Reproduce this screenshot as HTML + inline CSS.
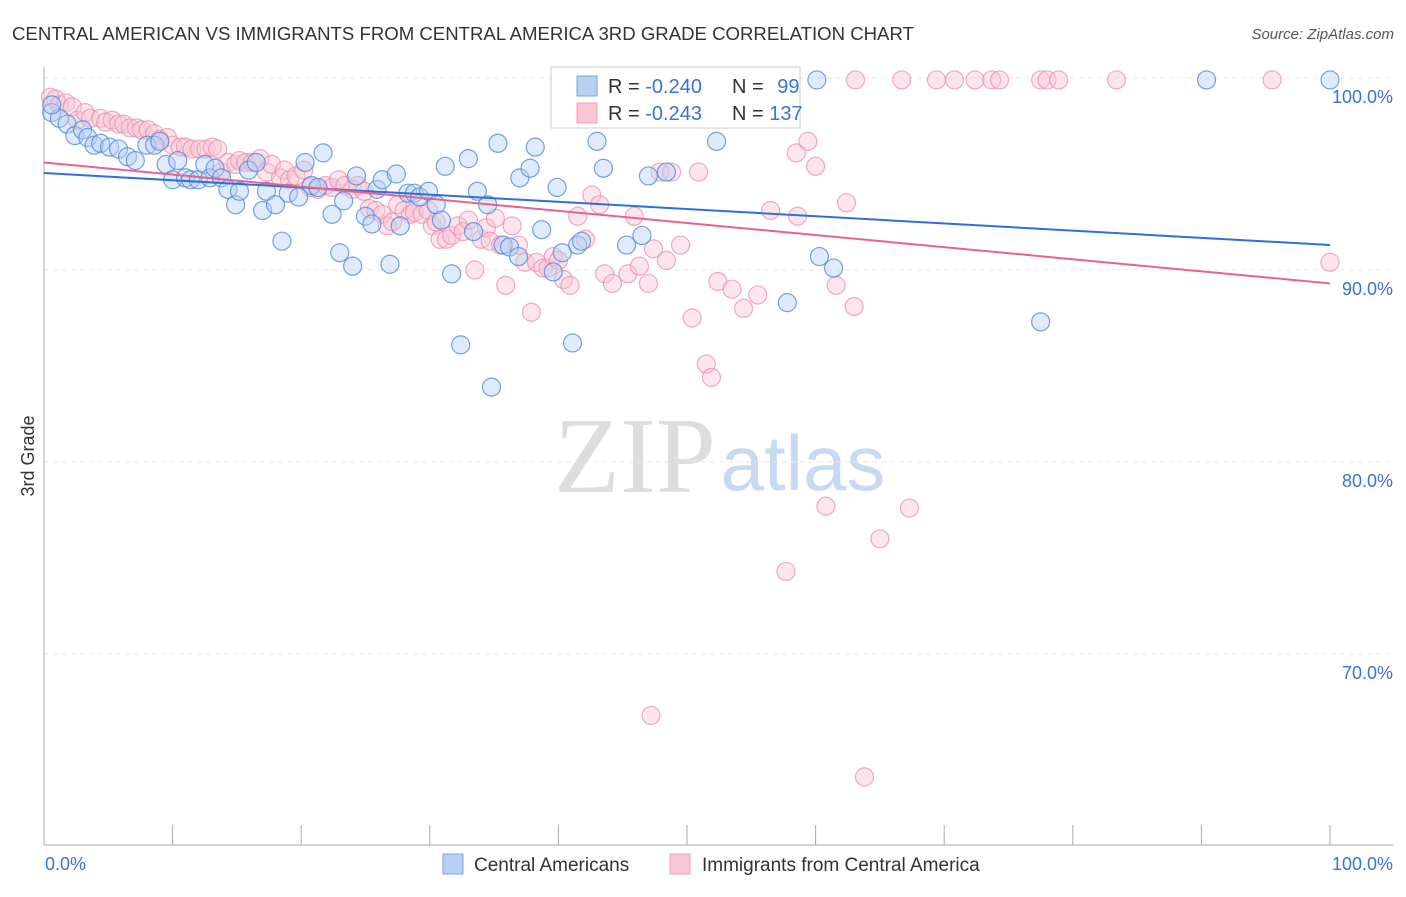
<!DOCTYPE html>
<html><head><meta charset="utf-8"><style>
body{margin:0;background:#fff;font-family:"Liberation Sans",sans-serif;}
svg text{font-family:"Liberation Sans",sans-serif;}
</style></head><body>
<svg id="chart" width="1406" height="892" viewBox="0 0 1406 892">
<text x="12" y="40" font-size="18.6" fill="#333">CENTRAL AMERICAN VS IMMIGRANTS FROM CENTRAL AMERICA 3RD GRADE CORRELATION CHART</text>
<text x="1394" y="39" font-size="15" fill="#555" font-style="italic" text-anchor="end">Source: ZipAtlas.com</text>
<text x="34" y="456" font-size="18" fill="#333" text-anchor="middle" transform="rotate(-90 34 456)">3rd Grade</text>
<g>
<text x="635" y="492" font-size="108" fill="#ddd" text-anchor="middle" style="font-family:'Liberation Serif',serif">ZIP</text>
<text x="803" y="490" font-size="78" fill="#c8daf2" text-anchor="middle">atlas</text>
</g>
<g id="grid"></g><g id="axes"></g><g id="pts"></g><g id="lines"></g>
<g>
<rect x="551" y="67" width="249" height="61" fill="#fff" stroke="#ccc"/>
<rect x="577" y="76" width="20" height="20" fill="#b8d1f3" stroke="#7aa3e0"/>
<text x="608" y="93" font-size="20" fill="#333">R = <tspan fill="#3a72d6">-0.240</tspan></text>
<text x="732" y="93" font-size="20" fill="#333">N = <tspan fill="#3a72d6" dx="8">99</tspan></text>
<rect x="577" y="103" width="20" height="20" fill="#f8c6d4" stroke="#eba0b6"/>
<text x="608" y="120" font-size="20" fill="#333">R = <tspan fill="#3a72d6">-0.243</tspan></text>
<text x="732" y="120" font-size="20" fill="#333">N = <tspan fill="#3a72d6">137</tspan></text>
</g>
<g>
<rect x="443" y="854" width="20" height="20" fill="#b8d1f3" stroke="#7aa3e0"/>
<text x="474" y="871" font-size="19" fill="#333">Central Americans</text>
<rect x="670" y="854" width="20" height="20" fill="#f8c6d4" stroke="#eba0b6"/>
<text x="702" y="871" font-size="19" fill="#333">Immigrants from Central America</text>
</g>
</svg>
<script>
const yTicks=[70,80,90,100];
const yTickLabels=["70.0%","80.0%","90.0%","100.0%"];
const xTickLabels=["0.0%","100.0%"];
const blueX=[0.6,1.2,1.8,2.4,3.0,3.4,3.9,4.4,5.1,5.8,6.5,7.1,8.0,8.6,9.0,9.5,10.0,10.4,11.0,11.4,12.0,12.5,12.9,13.3,13.8,14.3,14.9,15.2,15.9,16.5,17.0,17.3,18.0,18.5,19.0,19.8,20.3,20.8,21.3,21.7,22.4,23.0,23.3,24.0,24.3,25.0,25.5,25.9,26.3,26.9,27.4,27.7,28.3,28.8,29.2,29.9,30.5,30.9,31.2,31.7,32.4,33.0,33.4,33.7,34.5,34.8,35.3,35.7,36.2,36.9,37.0,37.8,38.2,38.7,39.6,39.9,40.3,41.1,41.5,41.8,43.0,43.5,45.3,46.5,47.0,48.4,52.3,57.8,60.3,61.4,60.1,77.5,90.4,100,0.6];
const blueY=[98.2,97.9,97.6,97.0,97.3,96.9,96.5,96.6,96.4,96.3,95.9,95.7,96.5,96.5,96.7,95.5,94.7,95.7,94.8,94.7,94.7,95.5,94.8,95.3,94.8,94.2,93.4,94.1,95.2,95.6,93.1,94.1,93.4,91.5,94.0,93.8,95.6,94.4,94.3,96.1,92.9,90.9,93.6,90.2,94.9,92.8,92.4,94.2,94.7,90.3,95.0,92.3,94.0,94.0,93.8,94.1,93.4,92.6,95.4,89.8,86.1,95.8,92.0,94.1,93.4,83.9,96.6,91.3,91.2,90.7,94.8,95.3,96.4,92.1,89.9,94.3,90.9,86.2,91.3,91.5,96.7,95.3,91.3,91.8,94.9,95.1,96.7,88.3,90.7,90.1,99.9,87.3,99.9,99.9,98.6];
const pinkX=[0.5,0.9,1.2,1.7,2.2,2.6,3.2,3.6,4.4,4.8,5.3,5.8,6.2,6.7,7.2,7.6,8.1,8.6,9.0,9.6,10.0,10.6,11.0,11.5,12.1,12.6,13.1,13.5,13.8,14.3,14.9,15.2,15.7,16.2,16.8,17.3,17.7,18.4,18.7,19.1,19.6,20.2,20.7,21.3,21.9,22.4,22.9,23.4,24.0,24.4,24.9,25.3,25.8,26.3,26.7,27.1,27.5,28.0,28.5,28.8,29.4,29.9,30.2,30.5,30.8,31.3,31.7,32.2,32.6,33.0,33.5,34.0,34.4,34.7,35.1,35.5,35.9,36.4,36.9,37.4,37.9,38.3,38.8,39.2,39.6,40.0,40.4,40.9,41.5,42.1,42.6,43.2,43.6,44.2,45.4,45.9,46.3,47.0,47.4,47.9,48.4,48.8,49.5,50.4,50.9,51.5,51.9,52.4,53.5,54.4,55.5,56.5,58.5,58.6,59.4,60.0,60.8,61.6,62.4,63.0,65.0,57.7,67.3,47.2,63.8,100,47.5,49.5,51.4,63.1,66.7,69.4,70.8,72.4,73.7,74.3,77.5,78.0,78.9,83.4,95.5];
const pinkY=[99.0,98.9,98.6,98.7,98.5,97.8,98.2,97.9,97.9,97.7,97.8,97.6,97.6,97.4,97.4,97.3,97.3,97.1,96.8,96.9,96.5,96.4,96.4,96.3,96.3,96.3,96.4,96.3,95.1,95.6,95.5,95.7,95.6,95.6,95.8,95.1,95.5,94.8,95.2,94.7,94.9,95.2,94.3,94.2,94.4,94.3,94.7,94.4,94.2,94.4,94.1,93.2,93.1,92.9,92.3,92.5,93.4,93.1,92.9,93.0,92.9,93.1,92.3,92.5,91.6,91.6,91.8,92.3,92.0,92.6,90.0,91.6,92.2,91.5,92.7,91.3,89.2,92.3,91.3,90.4,87.8,90.4,90.1,90.1,90.7,90.5,89.5,89.2,92.8,91.6,93.9,93.4,89.8,89.3,89.8,92.8,90.2,89.3,91.1,95.1,90.5,95.1,91.3,87.5,95.1,85.1,84.4,89.4,89.0,88.0,88.7,93.1,96.1,92.8,96.7,95.4,77.7,89.2,93.5,88.1,76.0,74.3,77.6,66.8,63.6,90.4,99.9,99.9,99.9,99.9,99.9,99.9,99.9,99.9,99.9,99.9,99.9,99.9,99.9,99.9,99.9];
const blueTrend=[95.05,91.3];
const pinkTrend=[95.6,89.3];

const X0=44,X1=1330,Y100=78,PX10=192;
const sx=v=>X0+(X1-X0)*v/100;
const sy=v=>Y100+(100-v)*PX10/10;
const NS="http://www.w3.org/2000/svg";
function mk(tag,attrs,parent){const e=document.createElementNS(NS,tag);for(const k in attrs)e.setAttribute(k,attrs[k]);parent.appendChild(e);return e;}
const grid=document.getElementById('grid'),axes=document.getElementById('axes'),pts=document.getElementById('pts'),lines=document.getElementById('lines');
yTicks.forEach((t,i)=>{
 const g=mk('line',{x1:X0,x2:1393,y1:sy(t),y2:sy(t),stroke:'#e6e6e6','stroke-dasharray':'5,4'},grid);
 
 
 const l=mk('text',{x:1393,y:sy(t)+25,'font-size':18,fill:'#3a72d6','text-anchor':'end'},axes);
 l.textContent=yTickLabels[i];
 
 
});
const ya=mk('line',{x1:X0,x2:X0,y1:67,y2:845,stroke:'#aaa'},axes);


const xa=mk('line',{x1:X0,x2:1393,y1:845,y2:845,stroke:'#aaa'},axes);


for(let t=10;t<=100;t+=10){
 const tk=mk('line',{x1:sx(t),x2:sx(t),y1:825,y2:845,stroke:'#aaa'},axes);
 
 
}
[[0,'start',45],[100,'end',1393]].forEach((d,i)=>{
 const l=mk('text',{x:d[2],y:870,'font-size':18,fill:'#3a72d6','text-anchor':d[1]},axes);
 l.textContent=xTickLabels[i];
 
 
});
function series(xs,ys,fill,stroke,name){
 xs.forEach((x,i)=>{
  const c=mk('circle',{cx:sx(x),cy:sy(ys[i]),r:9,fill:fill,'fill-opacity':0.45,stroke:stroke,'stroke-opacity':0.75,'stroke-width':1.2},pts);
  
  
 });
}
series(pinkX,pinkY,'#f8c6d4','#ec8fae','immigrants');
series(blueX,blueY,'#b8d1f3','#4a83dc','central-americans');
const bl=mk('line',{x1:sx(0),x2:sx(100),y1:sy(blueTrend[0]),y2:sy(blueTrend[1]),stroke:'#2f6fd6','stroke-width':2},lines);


const pl=mk('line',{x1:sx(0),x2:sx(100),y1:sy(pinkTrend[0]),y2:sy(pinkTrend[1]),stroke:'#e8628c','stroke-width':2},lines);


</script>
</body></html>
